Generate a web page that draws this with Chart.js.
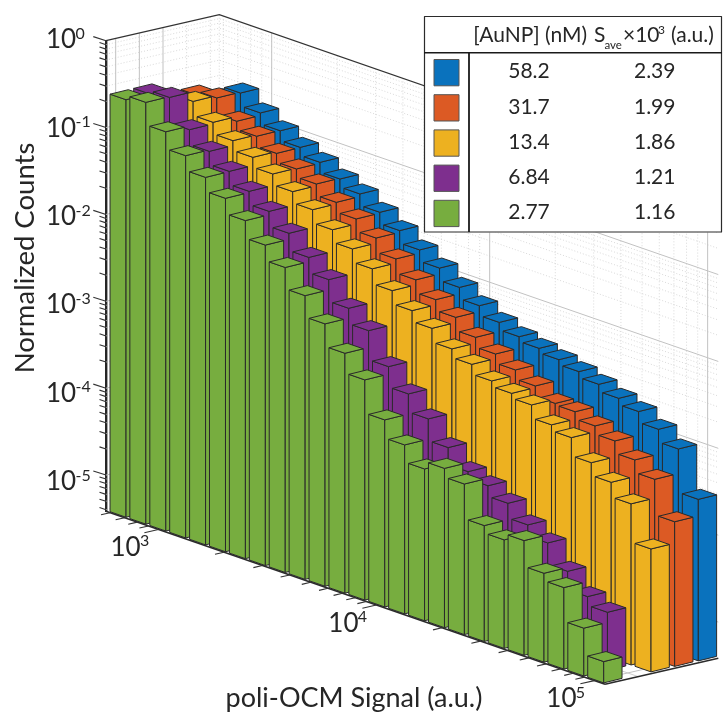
<!DOCTYPE html>
<html><head><meta charset="utf-8">
<style>html,body{margin:0;padding:0;background:#fff}canvas{display:block}</style>
<script src="https://cdn.jsdelivr.net/npm/chart.js@4/dist/chart.umd.min.js"></script>
</head><body><canvas id="c" width="724" height="716"></canvas>
<script>
const signalBins=[653,805,994,1226,1513,1867,2304,2844,3509,4330,5343,6594,8137,10041,12391,15290,18868,23283,28731,35454,43751,53989,66622,82212,101450];
const conc=['58.2','31.7','13.4','6.84','2.77'];
const save=['2.39','1.99','1.86','1.21','1.16'];
const colors=['#0a72bd','#dc5a24','#edb120','#7e2f8e','#77ad3f'];
const counts582=[0.14,0.196,0.139,0.104,0.0804,0.0649,0.0501,0.0405,0.0299,0.0221,0.0159,0.0118,0.00849,0.00628,0.00484,0.00398,0.00351,0.00312,0.00273,0.00234,0.00194,0.00164,0.00123,8.77e-4,2.77e-4];
const counts317=[0.179,0.199,0.129,0.104,0.0793,0.063,0.0508,0.0375,0.029,0.021,0.0145,0.01,0.0071,0.00533,0.00377,0.00291,0.00229,0.0018,0.00136,0.00131,0.00108,8.71e-4,6.32e-4,4.54e-4,1.77e-4];
const counts134=[0.15,0.21,0.145,0.107,0.0826,0.0638,0.048,0.0357,0.0252,0.0182,0.0129,0.00869,0.00614,0.00461,0.00321,0.00256,0.00198,0.00171,0.00151,0.00107,9.16e-4,5.66e-4,4.04e-4,2.74e-4,9.95e-5];
const counts684=[0.247,0.27,0.138,0.0933,0.0659,0.0466,0.0329,0.0221,0.014,0.00933,0.00524,0.00348,0.00161,9.38e-4,5.81e-4,3.26e-4,2.07e-4,1.71e-4,1.29e-4,8.73e-5,6.5e-5,3.68e-5,2.26e-5,1.79e-5,null];
const counts277=[0.245,0.274,0.151,0.0962,0.065,0.0448,0.0298,0.0187,0.0124,0.00706,0.00401,0.00221,0.00131,5.45e-4,3.37e-4,2.14e-4,2.61e-4,2.07e-4,8.26e-5,6.79e-5,8e-5,4.04e-5,3.32e-5,1.36e-5,6.73e-6];
const seriesCounts=[counts582,counts317,counts134,counts684,counts277];
const yExponents=[0,-1,-2,-3,-4,-5];
const xExponents=[3,4,5];
const minorMultiples=[2,3,4,5,6,7,8,9];
const xTitle='poli-OCM Signal (a.u.)', yTitle='Normalized Counts';

const FONT='Lato, Carlito, sans-serif', INK='#262626';
const K=0.3467, DEPTH={x:113.3,y:-26}, STEP={x:23.65,y:-5.5}, A={x:16,y:5.55}, B={x:18.3,y:-4.5};

function line(ctx,x1,y1,x2,y2,col,w,dash){ctx.beginPath();ctx.setLineDash(dash||[]);ctx.strokeStyle=col;ctx.lineWidth=w;ctx.moveTo(x1,y1);ctx.lineTo(x2,y2);ctx.stroke();ctx.setLineDash([]);}
function poly(ctx,pts,fill){ctx.beginPath();pts.forEach((p,i)=>i?ctx.lineTo(p.x,p.y):ctx.moveTo(p.x,p.y));ctx.closePath();ctx.fillStyle=fill;ctx.fill();ctx.strokeStyle='#2a2a2a';ctx.lineWidth=1;ctx.lineJoin='round';ctx.stroke();}
function txt(ctx,s,x,y,size,align){ctx.font=size+'px '+FONT;ctx.fillStyle=INK;ctx.textAlign=align||'left';ctx.textBaseline='alphabetic';ctx.fillText(s,x,y);}
function power(ctx,exp,x,y){txt(ctx,'10',x,y,26);txt(ctx,String(exp),x+29.5,y-9.5,16);}

const walls={id:'walls',beforeDatasetsDraw(ch){
  const c=ch.ctx,xs=ch.scales.x,ys=ch.scales.y,a=ch.chartArea;
  const x0=a.left,yb=a.bottom,yt=a.top,xR=a.right;
  const backTop=x=>yt+DEPTH.y+(x-x0-DEPTH.x)*K;
  const GR='#c2c2c2',DOT='#c9c9c9';
  const hl=(v,col,w,dash)=>{const p=ys.getPixelForValue(v);
    c.beginPath();c.setLineDash(dash||[]);c.strokeStyle=col;c.lineWidth=w;c.moveTo(x0,p);c.lineTo(x0+DEPTH.x,p+DEPTH.y);c.lineTo(xR+DEPTH.x,p+DEPTH.y+(xR-x0)*K);c.stroke();c.setLineDash([]);};
  yExponents.forEach(e=>{minorMultiples.forEach(m=>{const v=m*Math.pow(10,e-1);if(v>=ys.min)hl(v,DOT,0.7,[1,2]);});});
  yExponents.slice(1).forEach(e=>hl(Math.pow(10,e),GR,1));
  const H=yb-yt;
  const vl=(v,col,w,dash)=>{const x=xs.getPixelForValue(v)+DEPTH.x,t=backTop(x);line(c,x,t,x,t+H,col,w,dash);};
  [3,4].forEach(e=>minorMultiples.forEach(m=>vl(m*Math.pow(10,e),DOT,0.7,[1,2])));
  minorMultiples.forEach(m=>{const v=m*100;if(v>=xs.min)vl(v,DOT,0.7,[1,2]);});
  xExponents.forEach(e=>vl(Math.pow(10,e),GR,1));
  line(c,x0+DEPTH.x,yt+DEPTH.y,x0+DEPTH.x,yb+DEPTH.y,DOT,0.7,[1,2]);
  conc.forEach((_,s)=>{const x=x0+9.7+s*STEP.x,dy=(x-x0)*DEPTH.y/DEPTH.x;line(c,x,yt+dy,x,yb+dy,s<3?GR:DOT,s<3?1:0.8,s<3?[]:[1,2]);});
  const fx=xs.getPixelForValue(1e5),fy=yb+(fx-x0)*K;
  line(c,fx,fy,fx+DEPTH.x,fy+DEPTH.y,GR,1);
  conc.forEach((_,s)=>{const ox=9.7+s*STEP.x,oy=ox*DEPTH.y/DEPTH.x;line(c,xR-25+ox,yb+(xR-25-x0)*K+oy,xR+ox,yb+(xR-x0)*K+oy,GR,0.8);});
  c.beginPath();c.strokeStyle='#333';c.lineWidth=1.2;c.moveTo(x0,yt);c.lineTo(x0+DEPTH.x,yt+DEPTH.y);c.lineTo(xR+DEPTH.x,yt+DEPTH.y+(xR-x0)*K);c.stroke();
}};

const bars3d={id:'bars3d',afterDatasetsDraw(ch){
  const c=ch.ctx,a=ch.chartArea;
  [0,1,2,3,4].forEach(s=>{
    const ds=ch.data.datasets[s],depth=conc.length-1-s,meta=ch.getDatasetMeta(s);
    meta.data.forEach(el=>{
      if(el.skip||!isFinite(el.y))return;
      const h=a.bottom-el.y;
      const L={x:el.x-A.x/2+depth*STEP.x,y:a.bottom+0.4+(el.x-118)*K+depth*STEP.y};
      const F={x:L.x+A.x,y:L.y+A.y},R={x:F.x+B.x,y:F.y+B.y},K2={x:L.x+B.x,y:L.y+B.y};
      const up=p=>({x:p.x,y:p.y-h});
      poly(c,[L,F,up(F),up(L)],ds.borderColor);
      poly(c,[F,R,up(R),up(F)],ds.borderColor);
      poly(c,[up(L),up(F),up(R),up(K2)],ds.borderColor);
    });
  });
  drawAxes(ch);drawLegend(c);
}};

function drawAxes(ch){
  const c=ch.ctx,xs=ch.scales.x,ys=ch.scales.y,a=ch.chartArea;
  const x0=a.left,yb=a.bottom,xR=a.right;
  line(c,x0,yb,xR,yb+(xR-x0)*K,'#2b2b2b',1.6);
  line(c,xR,yb+(xR-x0)*K,xR+DEPTH.x,yb+(xR-x0)*K+DEPTH.y,'#2b2b2b',1.6);
  const yt=(v,l)=>{const p=ys.getPixelForValue(v);line(c,x0,p,x0-l,p-l*0.32,'#333',1.1);};
  yExponents.forEach((e,k)=>{const p=ys.getPixelForValue(Math.pow(10,e));yt(Math.pow(10,e),12.7);
    minorMultiples.forEach(m=>{const v=m*Math.pow(10,e-1);if(v>=ys.min)yt(v,6.5);});
    power(c,e,46,p+7.6+1.5*k);});
  const xt=(v,l)=>{const x=xs.getPixelForValue(v),y=yb+(x-x0)*K;line(c,x,y,x-l,y+l*0.23,'#333',1.1);};
  [2,3,4].forEach(e=>minorMultiples.forEach(m=>{const v=m*Math.pow(10,e);if(v>=xs.min)xt(v,9);}));
  xExponents.forEach(e=>{const v=Math.pow(10,e);xt(v,14);const x=xs.getPixelForValue(v),y=yb+(x-x0)*K;power(c,e,x-48,y+26.5);});
  txt(c,xTitle,354,706.5,27,'center');
  c.save();c.translate(34,258);c.rotate(-Math.PI/2);txt(c,yTitle,0,0,27.5,'center');c.restore();
}

function drawLegend(c){
  c.fillStyle='#fff';c.fillRect(424,16,300,216.5);
  c.strokeStyle='#2b2b2b';c.lineWidth=1.2;c.strokeRect(424.5,16.5,297,215.5);
  line(c,424,52.7,722,52.7,'#1a1a1a',1.6);
  line(c,469,52.7,469,232,'#1a1a1a',1.8);
  txt(c,'[AuNP] (nM)',473.3,41.7,21);
  txt(c,'S',594,41.7,21);
  txt(c,'ave',604.5,49,11.5);
  txt(c,'×10',623,41.7,21);
  txt(c,'3',658,34,12);
  txt(c,'(a.u.)',671,41.7,21);
  conc.forEach((v,i)=>{
    const y=59.5+i*35.2;
    c.fillStyle=colors[i];c.fillRect(434,y,25,26.3);
    c.strokeStyle='#555';c.lineWidth=1;c.strokeRect(434,y,25,26.3);
    txt(c,v,529,78.3+i*35.2,21,'center');
    txt(c,save[i],654.7,78.3+i*35.2,21,'center');
  });
}

new Chart(document.getElementById('c'),{
  type:'scatter',
  data:{datasets:conc.map((label,s)=>({
    label:label+' nM',
    data:signalBins.map((x,i)=>({x,y:seriesCounts[s][i]})),
    pointRadius:0,pointHoverRadius:0,backgroundColor:colors[s],borderColor:colors[s]
  }))},
  options:{
    responsive:false,animation:false,events:[],
    layout:{padding:{left:0,top:40.7,right:119,bottom:204.7}},
    plugins:{legend:{display:false},tooltip:{enabled:false},title:{display:false}},
    scales:{
      x:{type:'logarithmic',min:575,max:111900,display:false},
      y:{type:'logarithmic',min:3.83e-6,max:1,display:true,
         grid:{display:false},ticks:{display:false},
         border:{display:true,width:2.4,color:'#262626'},
         afterFit(s){s.width=106;}}
    }
  },
  plugins:[walls,bars3d]
});
</script></body></html>
